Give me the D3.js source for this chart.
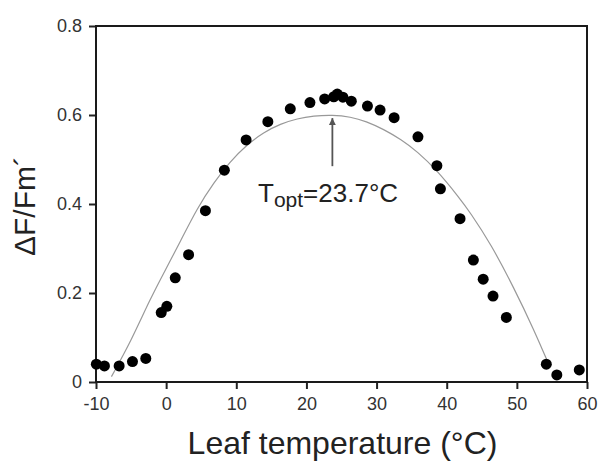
<!DOCTYPE html>
<html>
<head>
<meta charset="utf-8">
<script src="https://cdn.jsdelivr.net/npm/d3@7"></script>
<style>
  body { margin: 0; background: #fff; }
  svg { font-family: "Liberation Sans", Arial, sans-serif; }
</style>
</head>
<body>
<div id="chart"></div>
<script>
// measured points (leaf temperature, dF/Fm')
var leafTemp = [-9.95, -8.8, -6.7, -4.8, -2.9, -0.7, 0.1, 1.3, 3.2, 5.6, 8.3, 11.4, 14.5, 17.7,
  20.5, 22.6, 23.9, 24.4, 25.2, 26.4, 28.7, 30.5, 32.5, 35.9, 38.6, 39.1, 41.9,
  43.8, 45.2, 46.6, 48.5, 54.2, 55.7, 58.9];
var yieldVals = [0.040, 0.036, 0.036, 0.046, 0.053, 0.156, 0.170, 0.234, 0.286, 0.385, 0.476, 0.544, 0.585, 0.614,
  0.628, 0.636, 0.641, 0.647, 0.640, 0.631, 0.620, 0.611, 0.594, 0.551, 0.486, 0.434, 0.367,
  0.274, 0.231, 0.193, 0.145, 0.040, 0.016, 0.027];

// fitted curve
var fitTemp = [-7.8, -5.0, -2.3, 0, 2, 4.4, 6.8, 9.1, 11.5, 13.9, 16.3, 18.7, 21, 23.7,
  26.3, 28.5, 31, 33.5, 35.8, 38.6, 41.8, 43.3, 46.3, 49.6, 52.5, 54.4];
var fitVals = [0.012, 0.092, 0.186, 0.255, 0.315, 0.390, 0.448, 0.495, 0.533, 0.561, 0.580, 0.592, 0.598, 0.600,
  0.596, 0.586, 0.568, 0.545, 0.518, 0.476, 0.414, 0.382, 0.310, 0.211, 0.115, 0.045];

var xTicks = [-10, 0, 10, 20, 30, 40, 50, 60];
var yTicks = [0, 0.2, 0.4, 0.6, 0.8];
var yTickLabels = ["0", "0.2", "0.4", "0.6", "0.8"];

var tOpt = 23.7;

var svgWidth = 602, svgHeight = 461;
var margin = { top: 26, right: 15, bottom: 79, left: 96 };
var width = svgWidth - margin.left - margin.right;
var height = svgHeight - margin.top - margin.bottom;

var svg = d3.select("#chart").append("svg")
  .attr("width", svgWidth)
  .attr("height", svgHeight);

var g = svg.append("g")
  .attr("transform", `translate(${margin.left}, ${margin.top})`);

var x = d3.scaleLinear().domain([-10, 60]).range([0, width]);
var y = d3.scaleLinear().domain([0, 0.8]).range([height, 0]);

// axes
var xAxis = g.append("g")
  .attr("transform", `translate(0, ${height})`)
  .call(d3.axisBottom(x).tickValues(xTicks).tickSize(7).tickPadding(8).tickSizeOuter(0)
    .tickFormat(d => String(d)));
var yAxis = g.append("g")
  .call(d3.axisLeft(y).tickValues(yTicks).tickSize(7).tickPadding(7).tickSizeOuter(0)
    .tickFormat((d, i) => yTickLabels[i]));

[xAxis, yAxis].forEach(function(ax) {
  ax.select(".domain").remove();
  ax.selectAll(".tick line").attr("stroke", "#222").attr("stroke-width", 2);
  ax.selectAll(".tick text").attr("fill", "#333").style("font-size", "18px");
});

// frame
g.append("rect")
  .attr("x", 0).attr("y", 0)
  .attr("width", width).attr("height", height)
  .attr("fill", "none")
  .attr("stroke", "#1a1a1a")
  .attr("stroke-width", 2);

// fitted curve
var fitData = fitTemp.map((t, i) => ({ t: t, v: fitVals[i] }));
g.append("path")
  .datum(fitData)
  .attr("fill", "none")
  .attr("stroke", "#999")
  .attr("stroke-width", 1.2)
  .attr("d", d3.line().x(d => x(d.t)).y(d => y(d.v)).curve(d3.curveBasis));

// points
var pts = leafTemp.map((t, i) => ({ t: t, v: yieldVals[i] }));
g.selectAll("circle.pt")
  .data(pts)
  .enter()
  .append("circle")
  .attr("class", "pt")
  .attr("cx", d => x(d.t))
  .attr("cy", d => y(d.v))
  .attr("r", 5.5)
  .attr("fill", "#000");

// arrow for T opt
svg.append("defs").append("marker")
  .attr("id", "head")
  .attr("viewBox", "0 0 10 10")
  .attr("refX", 10).attr("refY", 5)
  .attr("markerWidth", 4).attr("markerHeight", 5)
  .attr("markerUnits", "strokeWidth")
  .attr("orient", "auto")
  .append("path")
  .attr("d", "M0,0 L10,5 L0,10 Z")
  .attr("fill", "#555");

g.append("line")
  .attr("x1", x(tOpt)).attr("x2", x(tOpt))
  .attr("y1", y(0.485)).attr("y2", y(0.593))
  .attr("stroke", "#555")
  .attr("stroke-width", 1.8)
  .attr("marker-end", "url(#head)");

var ann = g.append("text")
  .attr("x", x(13.1))
  .attr("y", y(0.4056))
  .attr("fill", "#222")
  .style("font-size", "26px");
ann.append("tspan").text("T");
ann.append("tspan").attr("dy", 5).style("font-size", "21px").text("opt");
ann.append("tspan").attr("dy", -5).text("=23.7°C");

// axis titles
g.append("text")
  .attr("x", width / 2 + 1)
  .attr("y", height + 72)
  .attr("text-anchor", "middle")
  .attr("fill", "#222")
  .style("font-size", "32px")
  .text("Leaf temperature (°C)");

g.append("text")
  .attr("transform", "rotate(-90)")
  .attr("x", -(206 - margin.top))
  .attr("y", 35 - margin.left)
  .attr("text-anchor", "middle")
  .attr("fill", "#222")
  .style("font-size", "30px")
  .text("ΔF/Fm´");
</script>
</body>
</html>
